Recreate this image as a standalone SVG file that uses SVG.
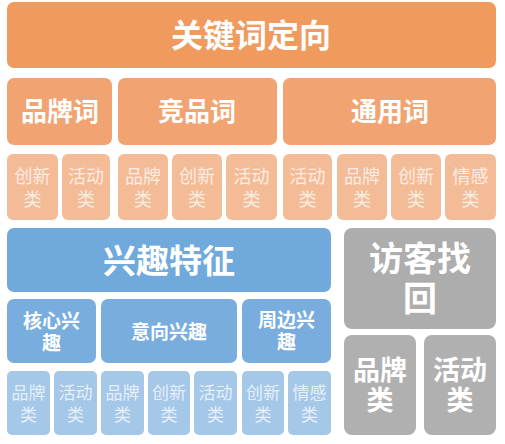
<svg xmlns="http://www.w3.org/2000/svg" width="505" height="444" viewBox="0 0 505 444">
<style>
text{font-family:"Liberation Sans","Noto Sans CJK SC",sans-serif;text-anchor:middle;dominant-baseline:central}
.o1{fill:#F09A5E}.o2{fill:#F1A472}.o3{fill:#F4BB97}
.b1{fill:#70A9DC}.b2{fill:#78ADDE}.b3{fill:#A5C7E8}
.g1{fill:#ADADAE}.g2{fill:#B0B0B1}
.h{fill:#FFFFFF;font-weight:bold}
.so{fill:#FDEDE2;font-size:18px}
.sb{fill:#E6F0FA;font-size:17px}
</style>
<rect width="505" height="444" fill="#FFFFFF"/>
<g id="kw"><rect class="o1" x="7" y="2" width="489" height="66" rx="7"/><text class="h" x="251" y="36" font-size="32">关键词定向</text></g>
<g id="kw-brand"><rect class="o2" x="7" y="78" width="105" height="67" rx="7"/><text class="h" x="60" y="112.4" font-size="26">品牌词</text></g>
<g id="kw-comp"><rect class="o2" x="118" y="78" width="159" height="67" rx="7"/><text class="h" x="197" y="112.4" font-size="26">竞品词</text></g>
<g id="kw-gen"><rect class="o2" x="283" y="78" width="213" height="67" rx="7"/><text class="h" x="390" y="112.4" font-size="26">通用词</text></g>
<g id="kw-s1"><rect class="o3" x="7" y="154" width="51" height="66" rx="6"/><text class="so" x="32.5" y="177">创新<tspan x="32.5" dy="23">类</tspan></text></g>
<g id="kw-s2"><rect class="o3" x="62" y="154" width="48" height="66" rx="6"/><text class="so" x="86" y="177">活动<tspan x="86" dy="23">类</tspan></text></g>
<g id="kw-s3"><rect class="o3" x="118" y="154" width="50" height="66" rx="6"/><text class="so" x="143" y="177">品牌<tspan x="143" dy="23">类</tspan></text></g>
<g id="kw-s4"><rect class="o3" x="172" y="154" width="50" height="66" rx="6"/><text class="so" x="197" y="177">创新<tspan x="197" dy="23">类</tspan></text></g>
<g id="kw-s5"><rect class="o3" x="226" y="154" width="51" height="66" rx="6"/><text class="so" x="251.5" y="177">活动<tspan x="251.5" dy="23">类</tspan></text></g>
<g id="kw-s6"><rect class="o3" x="283" y="154" width="49" height="66" rx="6"/><text class="so" x="307.5" y="177">活动<tspan x="307.5" dy="23">类</tspan></text></g>
<g id="kw-s7"><rect class="o3" x="337" y="154" width="50" height="66" rx="6"/><text class="so" x="362" y="177">品牌<tspan x="362" dy="23">类</tspan></text></g>
<g id="kw-s8"><rect class="o3" x="391" y="154" width="50" height="66" rx="6"/><text class="so" x="416" y="177">创新<tspan x="416" dy="23">类</tspan></text></g>
<g id="kw-s9"><rect class="o3" x="445" y="154" width="51" height="66" rx="6"/><text class="so" x="470.5" y="177">情感<tspan x="470.5" dy="23">类</tspan></text></g>
<g id="int"><rect class="b1" x="7" y="228" width="324" height="64" rx="7"/><text class="h" x="169" y="261" font-size="33">兴趣特征</text></g>
<g id="int-core"><rect class="b2" x="7" y="299" width="89" height="64" rx="7"/><text class="h" x="51.5" y="321" font-size="19">核心兴<tspan x="51.5" dy="21.5">趣</tspan></text></g>
<g id="int-intent"><rect class="b2" x="101" y="299" width="136" height="64" rx="7"/><text class="h" x="169" y="332" font-size="19">意向兴趣</text></g>
<g id="int-peri"><rect class="b2" x="242" y="299" width="89" height="64" rx="7"/><text class="h" x="286.5" y="320.6" font-size="19">周边兴<tspan x="286.5" dy="21.5">趣</tspan></text></g>
<g id="int-s1"><rect class="b3" x="7" y="371" width="43" height="64" rx="5"/><text class="sb" x="28.5" y="393.6">品牌<tspan x="28.5" dy="21">类</tspan></text></g>
<g id="int-s2"><rect class="b3" x="54" y="371" width="43" height="64" rx="5"/><text class="sb" x="75.5" y="393.6">活动<tspan x="75.5" dy="21">类</tspan></text></g>
<g id="int-s3"><rect class="b3" x="101" y="371" width="43" height="64" rx="5"/><text class="sb" x="122.5" y="393.6">品牌<tspan x="122.5" dy="21">类</tspan></text></g>
<g id="int-s4"><rect class="b3" x="148" y="371" width="42" height="64" rx="5"/><text class="sb" x="169" y="393.6">创新<tspan x="169" dy="21">类</tspan></text></g>
<g id="int-s5"><rect class="b3" x="194" y="371" width="43" height="64" rx="5"/><text class="sb" x="215.5" y="393.6">活动<tspan x="215.5" dy="21">类</tspan></text></g>
<g id="int-s6"><rect class="b3" x="242" y="371" width="42" height="64" rx="5"/><text class="sb" x="263" y="393.6">创新<tspan x="263" dy="21">类</tspan></text></g>
<g id="int-s7"><rect class="b3" x="288" y="371" width="43" height="64" rx="5"/><text class="sb" x="309.5" y="393.6">情感<tspan x="309.5" dy="21">类</tspan></text></g>
<g id="visit"><rect class="g1" x="344" y="228" width="152" height="101" rx="8"/><text class="h" x="420" y="259" font-size="34">访客找<tspan x="420" dy="39.5">回</tspan></text></g>
<g id="visit-brand"><rect class="g2" x="344" y="335" width="72" height="100" rx="8"/><text class="h" x="380" y="371" font-size="27">品牌<tspan x="380" dy="30">类</tspan></text></g>
<g id="visit-act"><rect class="g2" x="424" y="335" width="72" height="100" rx="8"/><text class="h" x="460" y="371" font-size="27">活动<tspan x="460" dy="30">类</tspan></text></g>
<g id="connectors"/>
</svg>
